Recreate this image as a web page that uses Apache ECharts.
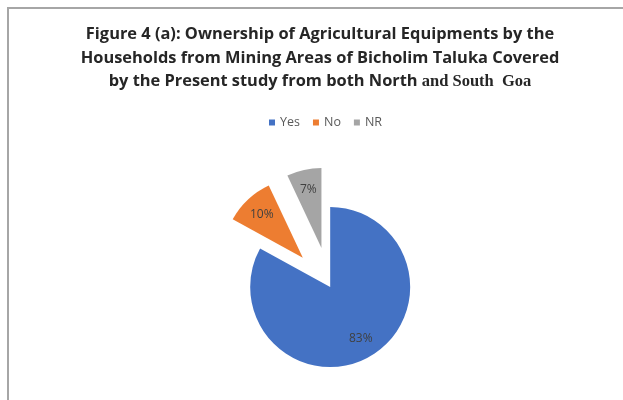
<!DOCTYPE html>
<html>
<head>
<meta charset="utf-8">
<script src="https://cdn.jsdelivr.net/npm/echarts@6/dist/echarts.min.js"></script>
<style>
  html, body { margin: 0; padding: 0; background: #ffffff; }
  #chart { width: 623px; height: 400px; }
</style>
</head>
<body>
<div id="chart"></div>
<script>
// Ownership of agricultural equipment, share of households (%)
const categories = ['Yes', 'No', 'NR'];
const shares = [83, 10, 7];
const exploded = [false, true, true];
const colors = ['#4472C4', '#ED7D31', '#A5A5A5'];

const titleLines = [
  'Figure 4 (a): Ownership of Agricultural Equipments by the',
  'Households from Mining Areas of Bicholim Taluka Covered',
  'by the Present study from both North'
];
const titleTail = ' and South  Goa';

const pieCenter = ['53%', '71.75%'];
const pieRadius = 80;

const sliceData = categories.map((name, i) => ({
  name: name,
  value: shares[i],
  selected: exploded[i],
  itemStyle: { color: colors[i] }
}));

const labelData = categories.map((name, i) => ({
  name: name,
  value: shares[i],
  selected: exploded[i]
}));

const chart = echarts.init(document.getElementById('chart'), null, { renderer: 'canvas' });

chart.setOption({
  animation: false,
  backgroundColor: '#ffffff',
  graphic: [
    {
      type: 'rect',
      shape: { x: 8, y: 8, width: 700, height: 500 },
      style: { fill: 'none', stroke: '#a6a6a6', lineWidth: 2 },
      silent: true
    }
  ],
  title: {
    left: 315,
    textAlign: 'center',
    top: 18,
    text: '{a|' + titleLines[0] + '}\n{a|' + titleLines[1] + '}\n{a|' + titleLines[2] + '}{b|' + titleTail + '}',
    textStyle: {
      rich: {
        a: { fontFamily: 'Open Sans', fontWeight: 'bold', fontSize: 16.4, color: '#262626', lineHeight: 23.5 },
        b: { fontFamily: 'Liberation Serif', fontWeight: 'bold', fontSize: 16.5, color: '#262626', lineHeight: 23.5 }
      }
    }
  },
  legend: {
    data: categories,
    top: 111,
    left: 264,
    icon: 'rect',
    itemWidth: 6,
    itemHeight: 6,
    itemGap: 13,
    selectedMode: false,
    textStyle: { fontFamily: 'Open Sans', fontSize: 12.5, color: '#595959' }
  },
  series: [
    {
      type: 'pie',
      center: pieCenter,
      radius: [0, pieRadius],
      startAngle: 90,
      clockwise: true,
      selectedMode: 'multiple',
      selectedOffset: 40,
      silent: true,
      label: { show: false },
      labelLine: { show: false },
      data: sliceData
    },
    {
      // carries the percentage labels, placed further out than the slice midpoint
      type: 'pie',
      center: pieCenter,
      radius: [34, pieRadius],
      startAngle: 90,
      clockwise: true,
      selectedMode: 'multiple',
      selectedOffset: 40,
      silent: true,
      legendHoverLink: false,
      itemStyle: { color: 'rgba(0,0,0,0)' },
      label: {
        show: true,
        position: 'inside',
        formatter: '{c}%',
        fontFamily: 'Open Sans',
        fontSize: 12,
        color: '#404040'
      },
      labelLine: { show: false },
      data: labelData
    }
  ]
});
</script>
</body>
</html>
